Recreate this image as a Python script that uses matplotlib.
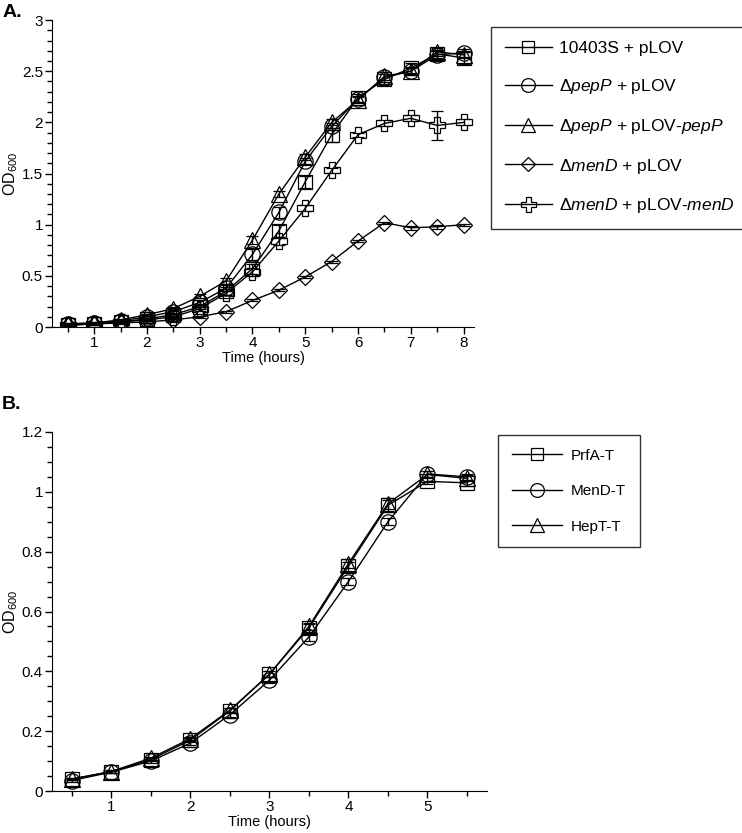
import matplotlib
matplotlib.use("Agg")
import matplotlib.pyplot as plt
import numpy as np

plt.rcParams['font.family'] = ['Liberation Sans', 'DejaVu Sans']
plt.rcParams['mathtext.fontset'] = 'custom'
plt.rcParams['mathtext.rm'] = 'Liberation Sans'
plt.rcParams['mathtext.it'] = 'Liberation Sans:italic'

# panel A data
time_a = [0.5, 1, 1.5, 2, 2.5, 3, 3.5, 4, 4.5, 5, 5.5, 6, 6.5, 7, 7.5, 8]
wt_plov = [0.02, 0.03, 0.05, 0.08, 0.12, 0.20, 0.35, 0.57, 0.94, 1.42, 1.88, 2.24, 2.42, 2.53, 2.67, 2.63]
pepp_plov = [0.03, 0.04, 0.06, 0.10, 0.15, 0.24, 0.38, 0.71, 1.12, 1.62, 1.96, 2.23, 2.44, 2.50, 2.66, 2.68]
pepp_comp = [0.03, 0.04, 0.07, 0.12, 0.18, 0.30, 0.45, 0.85, 1.30, 1.66, 2.00, 2.22, 2.45, 2.50, 2.69, 2.66]
mend_plov = [0.02, 0.03, 0.04, 0.05, 0.07, 0.10, 0.15, 0.26, 0.36, 0.49, 0.64, 0.84, 1.02, 0.97, 0.98, 1.00]
mend_comp = [0.02, 0.03, 0.05, 0.07, 0.10, 0.18, 0.33, 0.54, 0.84, 1.16, 1.53, 1.88, 1.99, 2.04, 1.97, 2.00]
wt_err = [0.01, 0.01, 0.01, 0.01, 0.02, 0.02, 0.04, 0.05, 0.06, 0.06, 0.07, 0.04, 0.05, 0.05, 0.04, 0.06]
pepp_err = [0.01, 0.01, 0.01, 0.01, 0.02, 0.02, 0.03, 0.05, 0.05, 0.03, 0.03, 0.03, 0.05, 0.04, 0.04, 0.04]
comp_err = [0.01, 0.01, 0.01, 0.01, 0.02, 0.02, 0.03, 0.04, 0.03, 0.03, 0.03, 0.03, 0.04, 0.03, 0.04, 0.03]
mend_err = [0.01, 0.01, 0.01, 0.01, 0.01, 0.01, 0.01, 0.01, 0.01, 0.01, 0.01, 0.01, 0.01, 0.02, 0.02, 0.01]
mcomp_err = [0.01, 0.01, 0.01, 0.01, 0.01, 0.02, 0.02, 0.04, 0.04, 0.03, 0.02, 0.02, 0.03, 0.03, 0.14, 0.03]
labels_a = ['10403S + pLOV', r'$\Delta\mathit{pepP}$ + pLOV', r'$\Delta\mathit{pepP}$ + pLOV-$\mathit{pepP}$',
            r'$\Delta\mathit{menD}$ + pLOV', r'$\Delta\mathit{menD}$ + pLOV-$\mathit{menD}$']

# panel B data
time_b = [0.5, 1, 1.5, 2, 2.5, 3, 3.5, 4, 4.5, 5, 5.5]
prfa = [0.040, 0.065, 0.105, 0.170, 0.268, 0.390, 0.545, 0.752, 0.955, 1.035, 1.030]
mend_t = [0.035, 0.063, 0.100, 0.160, 0.255, 0.370, 0.515, 0.700, 0.900, 1.060, 1.050]
hept = [0.040, 0.065, 0.110, 0.175, 0.270, 0.390, 0.550, 0.760, 0.960, 1.058, 1.045]
prfa_err = [0.004, 0.004, 0.005, 0.006, 0.008, 0.010, 0.012, 0.015, 0.018, 0.010, 0.010]
mend_t_err = [0.004, 0.004, 0.005, 0.006, 0.008, 0.010, 0.012, 0.012, 0.012, 0.010, 0.010]
hept_err = [0.004, 0.004, 0.005, 0.006, 0.008, 0.010, 0.012, 0.015, 0.018, 0.010, 0.010]
labels_b = ['PrfA-T', 'MenD-T', 'HepT-T']

fig = plt.figure(figsize=(7.42, 8.33), dpi=100)

def style_axes(ax):
    ax.spines['top'].set_visible(False)
    ax.spines['right'].set_visible(False)
    ax.tick_params(which='major', direction='out', length=5, width=1, labelsize=11, pad=1.5)
    ax.tick_params(which='minor', direction='out', length=3.5, width=1)
    ax.yaxis.set_major_formatter(matplotlib.ticker.FormatStrFormatter('%g'))

mk = dict(mfc='none', mew=0.9, color='black', lw=1, capsize=4, elinewidth=1, capthick=1)

# ---------- A ----------
axA = fig.add_axes([0.070, 0.6074, 0.569, 0.3685])
series_a = [(wt_plov, wt_err, 's', 10), (pepp_plov, pepp_err, 'o', 11),
            (pepp_comp, comp_err, '^', 11), (mend_plov, mend_err, 'D', 8),
            (mend_comp, mcomp_err, 'P', 12)]
handles = []
for (y, e, m, ms), lab in zip(series_a, labels_a):
    h = axA.errorbar(time_a, y, yerr=e, marker=m, ms=ms, label=lab, **mk)
    handles.append(h)
axA.set_xlim(0.2, 8.2)
axA.set_ylim(0, 3)
axA.set_xticks(range(1, 9))
axA.set_xticks(np.arange(0.5, 8.1, 0.5), minor=True)
axA.set_yticks(np.arange(0, 3.01, 0.5))
axA.set_yticks(np.arange(0, 3.01, 0.1), minor=True)
style_axes(axA)
axA.set_xlabel('Time (hours)', fontsize=10.5, labelpad=1)
axA.set_ylabel(r'$\mathrm{OD}_{600}$', fontsize=11.5)
axA.yaxis.set_label_coords(-0.076, 0.5)
legA = fig.legend(handles=[h[0] for h in handles], labels=labels_a, loc='upper left',
                  bbox_to_anchor=(0.6617, 0.9676), fontsize=12.5, frameon=True, fancybox=False,
                  edgecolor='black', handlelength=2.7, labelspacing=1.2, borderpad=0.8,
                  handletextpad=0.4, borderaxespad=0, markerscale=0.9)
legA.get_frame().set_linewidth(1)

# ---------- B ----------
axB = fig.add_axes([0.070, 0.0504, 0.586, 0.431])
series_b = [(prfa, prfa_err, 's', 10), (mend_t, mend_t_err, 'o', 11), (hept, hept_err, '^', 11)]
handles_b = []
for (y, e, m, ms), lab in zip(series_b, labels_b):
    h = axB.errorbar(time_b, y, yerr=e, marker=m, ms=ms, label=lab, **mk)
    handles_b.append(h)
axB.set_xlim(0.25, 5.75)
axB.set_ylim(0, 1.2)
axB.set_xticks(range(1, 6))
axB.set_xticks(np.arange(0.5, 5.6, 0.5), minor=True)
axB.set_yticks(np.arange(0, 1.21, 0.2))
axB.set_yticks(np.arange(0, 1.21, 0.05), minor=True)
style_axes(axB)
axB.set_xlabel('Time (hours)', fontsize=10.5, labelpad=1)
axB.set_ylabel(r'$\mathrm{OD}_{600}$', fontsize=11.5)
axB.yaxis.set_label_coords(-0.074, 0.5)
legB = fig.legend(handles=[h[0] for h in handles_b], labels=labels_b, loc='upper left',
                  bbox_to_anchor=(0.671, 0.4778), fontsize=11, frameon=True, fancybox=False,
                  edgecolor='black', handlelength=3.3, labelspacing=1.4, borderpad=0.9,
                  handletextpad=0.6, borderaxespad=0, markerscale=0.9)
legB.get_frame().set_linewidth(1)

fig.text(0.003, 0.985, 'A.', fontsize=14, fontweight='bold', va='center', ha='left')
fig.text(0.003, 0.514, 'B.', fontsize=14, fontweight='bold', va='center', ha='left')

fig.savefig('out.png', dpi=100)
